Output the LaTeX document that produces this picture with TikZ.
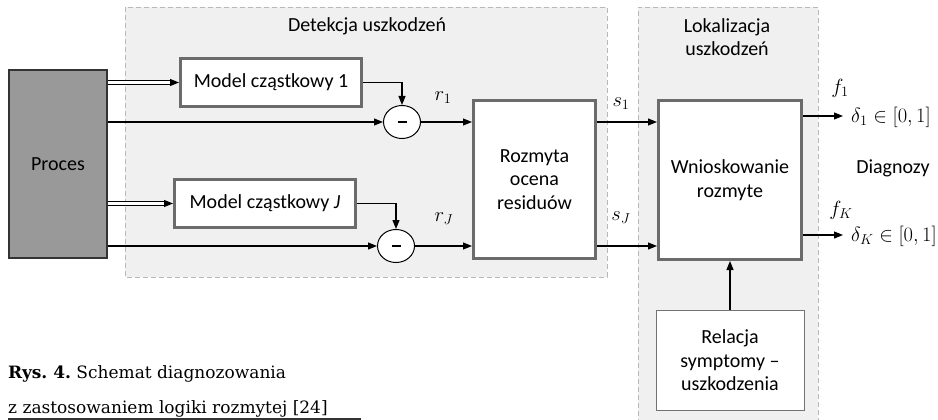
\RequirePackage{fix-cm}
\documentclass[tikz,border=0pt]{standalone}
\usepackage{fontspec}
\setmainfont{Carlito}
\newfontfamily\capfont{DejaVu Serif}
\usetikzlibrary{arrows.meta,calc,shapes.geometric}

\tikzset{
  zone/.style={draw=black!28, fill=black!6, line width=0.8pt, dash pattern=on 5pt off 3pt},
  heavybox/.style={draw=black!58, line width=3pt, fill=white, inner sep=0pt},
  lightbox/.style={draw=black!55, line width=1pt, fill=white, inner sep=0pt, align=center},
  procbox/.style={draw=black!80, fill=black!40, line width=2pt, inner sep=0pt},
  sumnode/.style={ellipse, draw=black, line width=1pt, fill=white, minimum width=37pt, minimum height=33pt, inner sep=0pt},
  sig/.style={-{Triangle[length=9pt,width=7pt]}, line width=1.1pt},
  twin/.style={line width=1pt, double, double distance=2.2pt},
  lbl/.style={inner sep=0pt},
  mlbl/.style={inner sep=0pt, font=\fontsize{20.5}{24}\selectfont},
  txt/.style={font=\fontsize{20}{23.5}\selectfont},
  captxt/.style={inner sep=0pt, anchor=base west, font=\capfont\fontsize{17}{20}\selectfont}
}

\begin{document}
\frenchspacing
\begin{tikzpicture}[x=1pt, y=-1pt, txt]
\useasboundingbox (0,0) rectangle (938,420);

% shaded stages
\draw[zone] (125,7) rectangle (607,277);
\fill[black!6] (638,7) rectangle (818,424);
\draw[zone, fill=none] (638,424) -- (638,7) -- (818,7) -- (818,424);
\node[lbl] (detl) at (367,26) {Detekcja uszkodzeń};
\node[lbl, align=center] (lokl) at (727,37) {Lokalizacja\\uszkodzeń};

% blocks
\node[procbox, minimum width=98pt, minimum height=188pt] (proc) at (58,164) {Proces};
\node[heavybox, minimum width=181pt, minimum height=48pt] (m1) at (271,82.5) {Model cząstkowy 1};
\node[heavybox, minimum width=181pt, minimum height=48pt] (mJ) at (265,203.5) {Model cząstkowy \textit{J}};
\node[sumnode] (c1) at (402,122) {};
\node[sumnode] (cJ) at (396,246) {};
\draw[line width=2pt] ($(c1)+(-4.5,0)$) -- ($(c1)+(4.5,0)$);
\draw[line width=2pt] ($(cJ)+(-4.5,0)$) -- ($(cJ)+(4.5,0)$);
\node[heavybox, align=center, minimum width=122pt, minimum height=158pt] (roz) at (534.5,179.5) {Rozmyta\\ocena\\residuów};
\node[heavybox, align=center, minimum width=143pt, minimum height=159pt] (wn) at (730,180) {Wnioskowanie\\rozmyte};
\node[lightbox, minimum width=148pt, minimum height=100pt] (rel) at (730,360.5) {Relacja\\symptomy –\\uszkodzenia};

% process outputs (vector signals)
\draw[twin, shorten >=8pt] (proc.east |- m1) -- (m1.west);
\draw[sig] ($(m1.west)+(-9.5,0)$) -- (m1.west);
\draw[twin, shorten >=8pt] (proc.east |- mJ) -- (mJ.west);
\draw[sig] ($(mJ.west)+(-9.5,0)$) -- (mJ.west);

% measured outputs to comparators
\draw[sig] (proc.east |- c1) -- (c1.west);
\draw[sig] (proc.east |- cJ) -- (cJ.west);

% model outputs to comparators
\draw[sig] (m1.east) -| (c1.north);
\draw[sig] (mJ.east) -| (cJ.north);

% residuals
\draw[sig] (c1.east) -- (roz.west |- c1);
\draw[sig] (cJ.east) -- (roz.west |- cJ);
\node[mlbl] (r1) at (443,98) {$r_1$};
\node[mlbl] (rJ) at (444,219) {$r_J$};

% symptoms
\draw[sig] (roz.east |- c1) -- (wn.west |- c1);
\draw[sig] (roz.east |- cJ) -- (wn.west |- cJ);
\node[mlbl] (s1) at (621,104) {$s_1$};
\node[mlbl] (sJ) at (621,218) {$s_J$};

% rule base
\draw[sig] (rel.north) -- (wn.south);

% diagnoses
\node[mlbl, anchor=west] (d1) at (851,117) {$\delta_1\in[0,1]$};
\node[mlbl, anchor=west] (dK) at (851,236) {$\delta_K\in[0,1]$};
\draw[sig, shorten >=8pt] (wn.east |- 0,116) -- (d1.west |- 0,116);
\draw[sig, shorten >=8pt] (wn.east |- 0,235) -- (dK.west |- 0,235);
\node[mlbl] (f1) at (840,88) {$f_1$};
\node[mlbl] (fK) at (841,210) {$f_K$};
\node[lbl] (diag) at (893,168) {Diagnozy};

% caption
\node[captxt] (cap1) at (8,378) {\textbf{Rys. 4.} Schemat diagnozowania};
\node[captxt] (cap2) at (8,413) {z zastosowaniem logiki rozmytej [24]};
\coordinate (ul1) at (8,419);
\coordinate (ul2) at (361,419);
\draw[line width=1.2pt, black!80] (ul1) -- (ul2);
\end{tikzpicture}
\end{document}
